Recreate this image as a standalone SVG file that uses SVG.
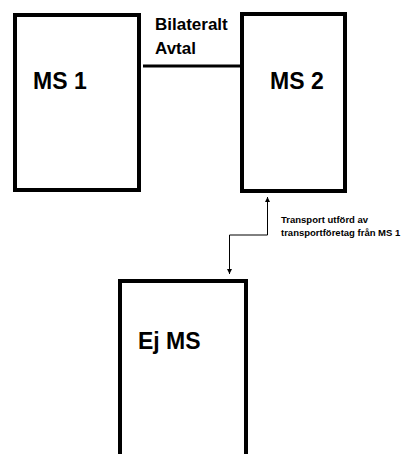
<svg xmlns="http://www.w3.org/2000/svg" width="404" height="454" viewBox="0 0 404 454">
<defs>
<style>
.box{fill:#fff;stroke:#000;stroke-width:4}
.big{font-family:"Liberation Sans",Arial,sans-serif;font-weight:bold;font-size:23px;fill:#000}
.lbl{font-family:"Liberation Sans",Arial,sans-serif;font-weight:bold;font-size:17px;fill:#000}
.sm{font-family:"Liberation Sans",Arial,sans-serif;font-weight:bold;font-size:9.5px;fill:#000}
.conn{fill:none;stroke:#000}
</style>
<marker id="ah" viewBox="0 0 10 10" refX="10" refY="5" markerWidth="5" markerHeight="5" orient="auto-start-reverse" markerUnits="userSpaceOnUse">
<path d="M0,0 L10,5 L0,10 z" fill="#000"/>
</marker>
</defs>
<rect width="404" height="454" fill="#fff"/>
<g id="connectors">
<line class="conn" x1="143" y1="66" x2="241" y2="66" stroke-width="3"/>
<polyline class="conn" stroke-width="1" points="267.5,197 267.5,235 229.5,235 229.5,274" marker-start="url(#ah)" marker-end="url(#ah)"/>
<text class="lbl" x="155" y="30">Bilateralt</text>
<text class="lbl" x="155" y="54">Avtal</text>
<text class="sm" x="281" y="223">Transport utförd av</text>
<text class="sm" x="281" y="236">transportföretag från MS 1</text>
</g>
<g id="ms1">
<rect class="box" x="15" y="15" width="124" height="175"/>
<text class="big" x="33" y="89">MS 1</text>
</g>
<g id="ms2">
<rect class="box" x="242" y="14" width="103" height="177"/>
<text class="big" x="270" y="89">MS 2</text>
</g>
<g id="ejms">
<rect class="box" x="120" y="281" width="126" height="190"/>
<text class="big" x="138" y="349">Ej MS</text>
</g>
</svg>
